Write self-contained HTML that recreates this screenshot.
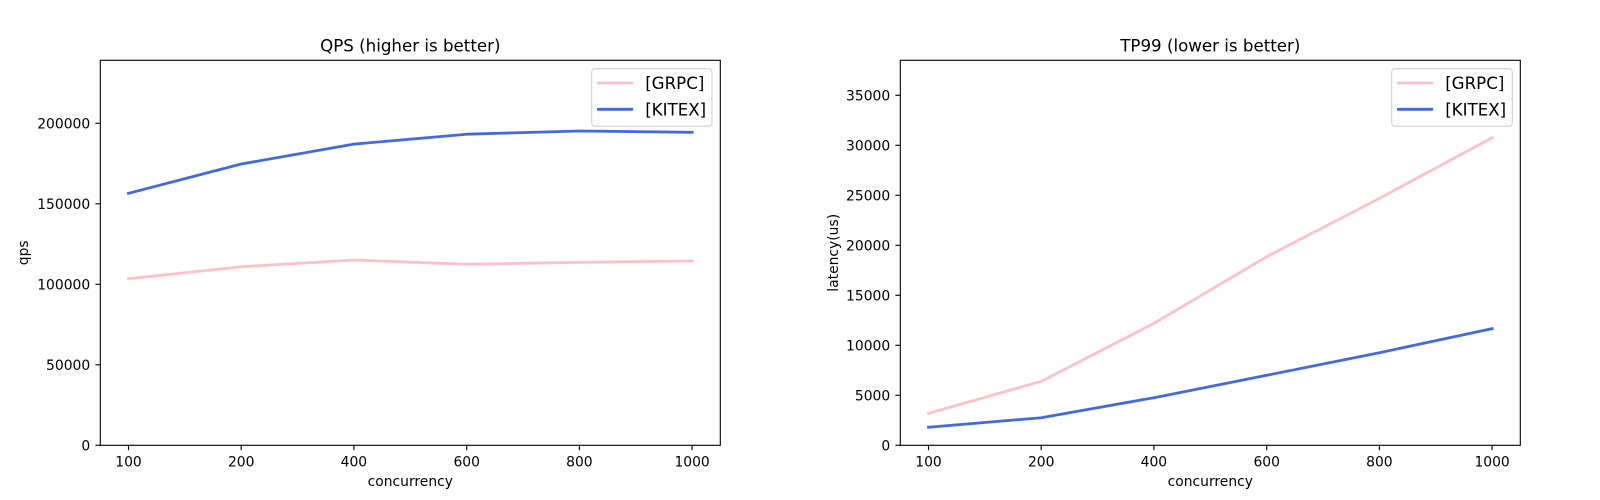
<!DOCTYPE html>
<html>
<head>
<meta charset="utf-8">
<style>
  html, body { margin: 0; padding: 0; background: #ffffff; }
  svg { display: block; }
  text { font-family: "DejaVu Sans", "Liberation Sans", sans-serif; fill: #000; }
  .tick { font-size: 13.89px; }
  .lbl { font-size: 13.89px; }
  .ttl { font-size: 16.67px; }
  .leg { font-size: 16.67px; }
</style>
</head>
<body>
<svg width="1600" height="500" viewBox="0 0 1600 500" xmlns="http://www.w3.org/2000/svg">
  <rect x="0" y="0" width="1600" height="500" fill="#ffffff"/>

  <!-- ================= LEFT: QPS ================= -->
  <g>
    <polyline fill="none" stroke="#ffc0cb" stroke-width="2.78" stroke-linejoin="round" stroke-linecap="square"
      points="128.5,278.7 241.2,266.7 353.9,260.0 466.7,264.3 579.4,262.3 692.1,261.0"/>
    <polyline fill="none" stroke="#4169e1" stroke-width="2.78" stroke-linejoin="round" stroke-linecap="square"
      points="128.5,193.3 241.2,164.0 353.9,144.1 466.7,134.2 579.4,131.0 692.1,132.3"/>

    <rect x="100.3" y="60.3" width="620" height="385" fill="none" stroke="#000" stroke-width="1.11"/>

    <g stroke="#000" stroke-width="1.11">
      <line x1="128.5" y1="445.3" x2="128.5" y2="450.2"/>
      <line x1="241.2" y1="445.3" x2="241.2" y2="450.2"/>
      <line x1="353.9" y1="445.3" x2="353.9" y2="450.2"/>
      <line x1="466.7" y1="445.3" x2="466.7" y2="450.2"/>
      <line x1="579.4" y1="445.3" x2="579.4" y2="450.2"/>
      <line x1="692.1" y1="445.3" x2="692.1" y2="450.2"/>
    </g>
    <g class="tick" text-anchor="middle">
      <text x="128.5" y="466.7">100</text>
      <text x="241.2" y="466.7">200</text>
      <text x="353.9" y="466.7">400</text>
      <text x="466.7" y="466.7">600</text>
      <text x="579.4" y="466.7">800</text>
      <text x="692.1" y="466.7">1000</text>
    </g>

    <g stroke="#000" stroke-width="1.11">
      <line x1="95.4" y1="445.3" x2="100.3" y2="445.3"/>
      <line x1="95.4" y1="364.8" x2="100.3" y2="364.8"/>
      <line x1="95.4" y1="284.3" x2="100.3" y2="284.3"/>
      <line x1="95.4" y1="203.8" x2="100.3" y2="203.8"/>
      <line x1="95.4" y1="123.3" x2="100.3" y2="123.3"/>
    </g>
    <g class="tick" text-anchor="end">
      <text x="90.2" y="450.3">0</text>
      <text x="90.2" y="369.8">50000</text>
      <text x="90.2" y="289.3">100000</text>
      <text x="90.2" y="208.8">150000</text>
      <text x="90.2" y="128.3">200000</text>
    </g>

    <text class="lbl" x="410.3" y="486" text-anchor="middle">concurrency</text>
    <text class="lbl" text-anchor="middle" transform="translate(28,252.8) rotate(-90)">qps</text>
    <text class="ttl" x="410.3" y="51.7" text-anchor="middle">QPS (higher is better)</text>

    <rect x="591.7" y="68.7" width="120.3" height="57.6" rx="3.3" ry="3.3" fill="#ffffff" fill-opacity="0.8" stroke="#cccccc" stroke-width="1"/>
    <line x1="598.4" y1="83" x2="631.7" y2="83" stroke="#ffc0cb" stroke-width="2.78" stroke-linecap="square"/>
    <line x1="598.4" y1="109.3" x2="631.7" y2="109.3" stroke="#4169e1" stroke-width="2.78" stroke-linecap="square"/>
    <text class="leg" x="645.2" y="89">[GRPC]</text>
    <text class="leg" x="645.2" y="115.3">[KITEX]</text>
  </g>

  <!-- ================= RIGHT: TP99 ================= -->
  <g>
    <polyline fill="none" stroke="#ffc0cb" stroke-width="2.78" stroke-linejoin="round" stroke-linecap="square"
      points="928.5,413.3 1041.2,381.3 1153.9,323.3 1266.7,256.7 1379.4,198.3 1492.1,137.7"/>
    <polyline fill="none" stroke="#4169e1" stroke-width="2.78" stroke-linejoin="round" stroke-linecap="square"
      points="928.5,427.3 1041.2,417.7 1153.9,397.7 1266.7,375.3 1379.4,352.7 1492.1,328.7"/>

    <rect x="900.3" y="60.3" width="620" height="385" fill="none" stroke="#000" stroke-width="1.11"/>

    <g stroke="#000" stroke-width="1.11">
      <line x1="928.5" y1="445.3" x2="928.5" y2="450.2"/>
      <line x1="1041.2" y1="445.3" x2="1041.2" y2="450.2"/>
      <line x1="1153.9" y1="445.3" x2="1153.9" y2="450.2"/>
      <line x1="1266.7" y1="445.3" x2="1266.7" y2="450.2"/>
      <line x1="1379.4" y1="445.3" x2="1379.4" y2="450.2"/>
      <line x1="1492.1" y1="445.3" x2="1492.1" y2="450.2"/>
    </g>
    <g class="tick" text-anchor="middle">
      <text x="928.5" y="466.7">100</text>
      <text x="1041.2" y="466.7">200</text>
      <text x="1153.9" y="466.7">400</text>
      <text x="1266.7" y="466.7">600</text>
      <text x="1379.4" y="466.7">800</text>
      <text x="1492.1" y="466.7">1000</text>
    </g>

    <g stroke="#000" stroke-width="1.11">
      <line x1="895.4" y1="445.3" x2="900.3" y2="445.3"/>
      <line x1="895.4" y1="395.3" x2="900.3" y2="395.3"/>
      <line x1="895.4" y1="345.3" x2="900.3" y2="345.3"/>
      <line x1="895.4" y1="295.3" x2="900.3" y2="295.3"/>
      <line x1="895.4" y1="245.3" x2="900.3" y2="245.3"/>
      <line x1="895.4" y1="195.3" x2="900.3" y2="195.3"/>
      <line x1="895.4" y1="145.3" x2="900.3" y2="145.3"/>
      <line x1="895.4" y1="95.3" x2="900.3" y2="95.3"/>
    </g>
    <g class="tick" text-anchor="end">
      <text x="890.2" y="450.3">0</text>
      <text x="890.2" y="400.3">5000</text>
      <text x="890.2" y="350.3">10000</text>
      <text x="890.2" y="300.3">15000</text>
      <text x="890.2" y="250.3">20000</text>
      <text x="890.2" y="200.3">25000</text>
      <text x="890.2" y="150.3">30000</text>
      <text x="890.2" y="100.3">35000</text>
    </g>

    <text class="lbl" x="1210.3" y="486" text-anchor="middle">concurrency</text>
    <text class="lbl" text-anchor="middle" transform="translate(838,252.8) rotate(-90)">latency(us)</text>
    <text class="ttl" x="1210.3" y="51.7" text-anchor="middle">TP99 (lower is better)</text>

    <rect x="1391.7" y="68.7" width="120.6" height="57.6" rx="3.3" ry="3.3" fill="#ffffff" fill-opacity="0.8" stroke="#cccccc" stroke-width="1"/>
    <line x1="1398.4" y1="83" x2="1431.7" y2="83" stroke="#ffc0cb" stroke-width="2.78" stroke-linecap="square"/>
    <line x1="1398.4" y1="109.3" x2="1431.7" y2="109.3" stroke="#4169e1" stroke-width="2.78" stroke-linecap="square"/>
    <text class="leg" x="1445.2" y="89">[GRPC]</text>
    <text class="leg" x="1445.2" y="115.3">[KITEX]</text>
  </g>
</svg>
</body>
</html>
